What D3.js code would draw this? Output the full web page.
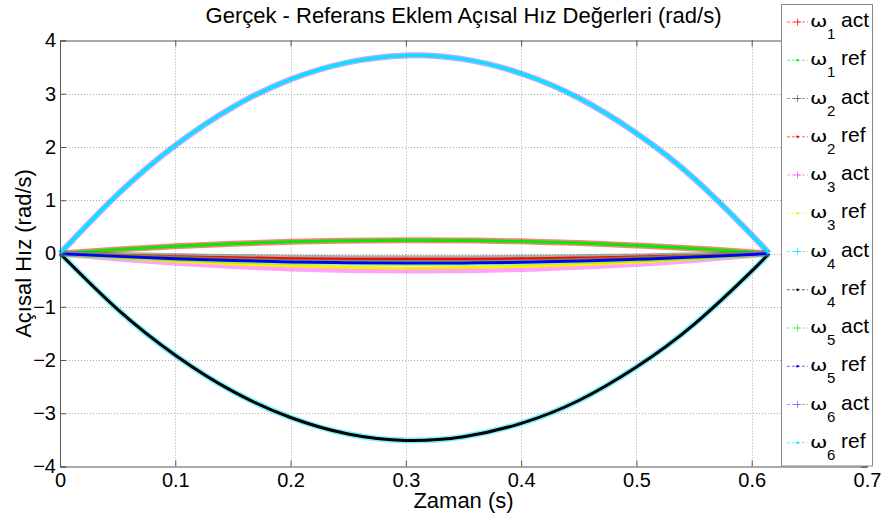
<!DOCTYPE html>
<html>
<head>
<meta charset="utf-8">
<script src="https://d3js.org/d3.v7.min.js"></script>
<style>
    body { margin: 0; background: #fff; }
    text { font-family: "Liberation Sans", Arial, sans-serif; fill: #000; }
</style>
</head>
<body>
<svg id="chart" width="885" height="522"></svg>
<script>
// time samples (s)
const zaman = [0, 0.05, 0.1, 0.15, 0.2, 0.25, 0.3, 0.35, 0.4, 0.45, 0.5, 0.55, 0.6, 0.615];

// joint velocities (rad/s)
const w1Act = [0, 0.075, 0.136, 0.185, 0.22, 0.241, 0.25, 0.245, 0.228, 0.196, 0.152, 0.095, 0.024, 0];
const w1Ref = [0, 0.075, 0.136, 0.185, 0.22, 0.241, 0.25, 0.245, 0.228, 0.196, 0.152, 0.095, 0.024, 0];
const w2Act = [0, -0.027, -0.049, -0.066, -0.079, -0.087, -0.09, -0.088, -0.082, -0.071, -0.055, -0.034, -0.009, 0];
const w2Ref = [0, -0.033, -0.06, -0.081, -0.097, -0.106, -0.11, -0.108, -0.1, -0.086, -0.067, -0.042, -0.01, 0];
const w3Act = [0, -0.096, -0.174, -0.236, -0.281, -0.309, -0.32, -0.314, -0.291, -0.251, -0.195, -0.121, -0.03, 0];
const w3Ref = [0, -0.081, -0.147, -0.199, -0.237, -0.261, -0.27, -0.265, -0.246, -0.212, -0.164, -0.102, -0.026, 0];
const w4Act = [0, -1.05, -1.91, -2.59, -3.08, -3.39, -3.51, -3.44, -3.19, -2.76, -2.13, -1.33, -0.33, 0];
const w4Ref = [0, -1.05, -1.91, -2.59, -3.08, -3.39, -3.51, -3.44, -3.19, -2.76, -2.13, -1.33, -0.33, 0];
const w5Act = [0, -0.054, -0.098, -0.133, -0.158, -0.174, -0.18, -0.177, -0.164, -0.141, -0.109, -0.068, -0.017, 0];
const w5Ref = [0, -0.054, -0.098, -0.133, -0.158, -0.174, -0.18, -0.177, -0.164, -0.141, -0.109, -0.068, -0.017, 0];
const w6Act = [0, 1.11, 2.03, 2.75, 3.27, 3.59, 3.72, 3.65, 3.38, 2.92, 2.26, 1.41, 0.35, 0];
const w6Ref = [0, 1.11, 2.03, 2.75, 3.27, 3.59, 3.72, 3.65, 3.38, 2.92, 2.26, 1.41, 0.35, 0];

const seriesNames = ['1 act', '1 ref', '2 act', '2 ref', '3 act', '3 ref', '4 act', '4 ref', '5 act', '5 ref', '6 act', '6 ref'];
const seriesValues = [w1Act, w1Ref, w2Act, w2Ref, w3Act, w3Ref, w4Act, w4Ref, w5Act, w5Ref, w6Act, w6Ref];
const seriesColors = ['#ff0000', '#00ee00', '#555555', '#ff0000', '#ff44ff', '#ffee00', '#00e5ff', '#000000', '#33ee33', '#0000ff', '#5a5cff', '#00e5ff'];

const xTicks = [0, 0.1, 0.2, 0.3, 0.4, 0.5, 0.6, 0.7];
const yTicks = [-4, -3, -2, -1, 0, 1, 2, 3, 4];

class VelocityChart {
    constructor() {
        this.svg = d3.select('#chart');
        this.LEFT = 60;
        this.RIGHT = 867;
        this.TOP = 40.5;
        this.BOTTOM = 466.5;

        this.xScale = d3.scaleLinear().domain([0, 0.7]).range([this.LEFT, this.RIGHT]);
        this.yScale = d3.scaleLinear().domain([-4, 4]).range([this.BOTTOM, this.TOP]);

        this.drawGrid();
        this.drawLines();
        this.drawAxis();
        this.drawLegend();
        this.drawLabels();
    }

    drawGrid() {
        let g = this.svg.append('g');
        g.selectAll('.gx').data(xTicks.slice(1, -1)).join('line')
            .attr('x1', d => Math.round(this.xScale(d)) + 0.5).attr('x2', d => Math.round(this.xScale(d)) + 0.5)
            .attr('y1', this.TOP).attr('y2', this.BOTTOM)
            .attr('stroke', '#aaa').attr('stroke-dasharray', '1,2');
        g.selectAll('.gy').data(yTicks.slice(1, -1)).join('line')
            .attr('x1', this.LEFT).attr('x2', this.RIGHT)
            .attr('y1', d => Math.round(this.yScale(d)) + 0.5).attr('y2', d => Math.round(this.yScale(d)) + 0.5)
            .attr('stroke', '#aaa').attr('stroke-dasharray', '1,2');
    }

    drawLines() {
        let line = d3.line()
            .x((d, i) => this.xScale(zaman[i]))
            .y(d => this.yScale(d))
            .curve(d3.curveNatural);

        // later series are drawn on top, like in MATLAB
        this.svg.append('g').selectAll('path')
            .data(seriesValues)
            .join('path')
            .attr('d', d => line(d))
            .attr('fill', 'none')
            .attr('stroke', (d, i) => seriesColors[i])
            .attr('stroke-width', (d, i) => i % 2 === 0 ? 6 : 3)
            .attr('stroke-opacity', (d, i) => i % 2 === 0 ? 0.5 : 1);
    }

    drawAxis() {
        let xAxis = d3.axisBottom(this.xScale).tickValues(xTicks).tickSize(-6).tickPadding(6)
            .tickFormat(d3.format('~g'));
        let xTop = d3.axisTop(this.xScale).tickValues(xTicks).tickSize(-6).tickFormat('');
        let yAxis = d3.axisLeft(this.yScale).tickValues(yTicks).tickSize(-6).tickPadding(4)
            .tickFormat(d3.format('d'));
        let yRight = d3.axisRight(this.yScale).tickValues(yTicks).tickSize(-6).tickFormat('');

        let styleAxis = sel => {
            sel.select('.domain').attr('stroke', '#555');
            sel.selectAll('.tick line').attr('stroke', '#555');
            sel.selectAll('text').style('font-size', '20px').attr('fill', '#000');
        };

        this.svg.append('g').attr('transform', `translate(0, ${this.BOTTOM})`).call(xAxis).call(styleAxis);
        this.svg.append('g').attr('transform', `translate(0, ${this.TOP})`).call(xTop).call(styleAxis);
        this.svg.append('g').attr('transform', `translate(${this.LEFT}, 0)`).call(yAxis).call(styleAxis);
        this.svg.append('g').attr('transform', `translate(${this.RIGHT}, 0)`).call(yRight).call(styleAxis);
    }

    drawLegend() {
        let g = this.svg.append('g');
        g.append('rect')
            .attr('x', 781.5).attr('y', 4.5).attr('width', 91).attr('height', 461.5)
            .attr('fill', '#fff').attr('stroke', '#888');

        let rows = g.selectAll('.row').data(seriesNames).join('g')
            .attr('transform', (d, i) => `translate(0, ${22 + i * 38.25})`);

        rows.append('line')
            .attr('x1', 787).attr('x2', 808).attr('y1', 0).attr('y2', 0)
            .attr('stroke', (d, i) => seriesColors[i]).attr('stroke-opacity', 0.6)
            .attr('stroke-dasharray', '3,2');
        rows.filter((d, i) => i % 2 === 0).append('path')
            .attr('d', 'M794,0H801M797.5,-3.5V3.5')
            .attr('stroke', (d, i) => seriesColors[i * 2]).attr('stroke-opacity', 0.7);
        rows.filter((d, i) => i % 2 === 1).append('circle')
            .attr('cx', 797.5).attr('cy', 0).attr('r', 1.3)
            .attr('fill', (d, i) => seriesColors[i * 2 + 1]);

        // omega glyph, stretched to look like the Symbol font one
        rows.append('text')
            .attr('transform', 'translate(810, 5) scale(1.3, 1)')
            .style('font-family', '"DejaVu Sans", sans-serif').style('font-size', '16px')
            .text('ω');
        rows.append('text').attr('x', 827).attr('y', 17)
            .style('font-size', '15px').text(d => d.split(' ')[0]);
        rows.append('text').attr('x', 841).attr('y', 5)
            .style('font-size', '21px').text(d => d.split(' ')[1]);
    }

    drawLabels() {
        let cx = (this.LEFT + this.RIGHT) / 2;
        this.svg.append('text').attr('x', cx).attr('y', 23).attr('text-anchor', 'middle')
            .style('font-size', '22px').text('Gerçek - Referans Eklem Açısal Hız Değerleri (rad/s)');
        this.svg.append('text').attr('x', cx).attr('y', 508).attr('text-anchor', 'middle')
            .style('font-size', '22px').text('Zaman (s)');
        this.svg.append('text')
            .attr('transform', `translate(31, ${this.yScale(0)}) rotate(-90)`)
            .attr('text-anchor', 'middle')
            .style('font-size', '22px').text('Açısal Hız (rad/s)');
    }
}

new VelocityChart();
</script>
</body>
</html>
